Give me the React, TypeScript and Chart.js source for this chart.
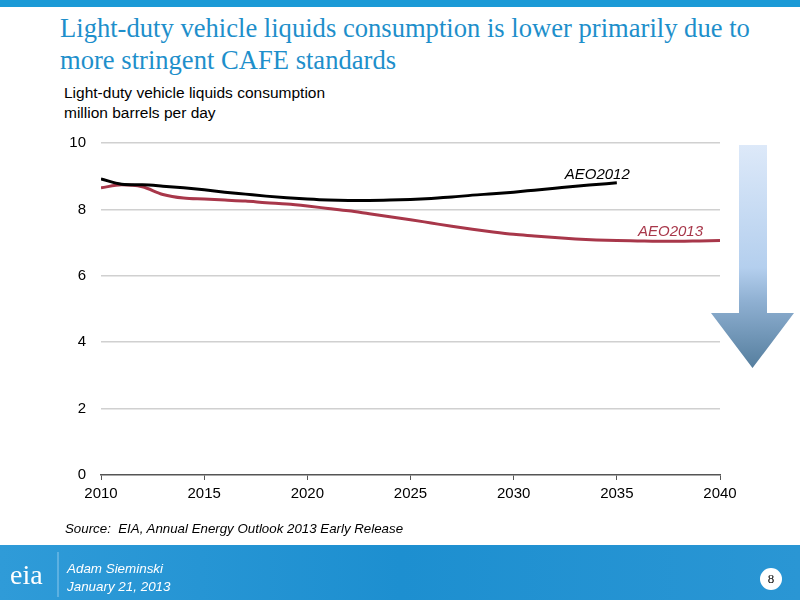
import React, { useEffect, useRef } from "react";
import { Chart, registerables } from "chart.js";

Chart.register(...registerables);

const years: number[] = [
  2010, 2011, 2012, 2013, 2014, 2015, 2016, 2017, 2018, 2019, 2020,
  2021, 2022, 2023, 2024, 2025, 2026, 2027, 2028, 2029, 2030,
  2031, 2032, 2033, 2034, 2035, 2036, 2037, 2038, 2039, 2040,
];

const aeo2012: number[] = [
  8.92, 8.76, 8.74, 8.7, 8.65, 8.59, 8.52, 8.46, 8.4, 8.35, 8.31,
  8.28, 8.27, 8.27, 8.28, 8.3, 8.33, 8.37, 8.43, 8.47, 8.52,
  8.58, 8.64, 8.7, 8.75, 8.8,
];

const aeo2013: number[] = [
  8.65, 8.74, 8.68, 8.45, 8.34, 8.31, 8.28, 8.25, 8.2, 8.16, 8.1,
  8.03, 7.96, 7.87, 7.78, 7.69, 7.59, 7.49, 7.4, 7.32, 7.25,
  7.2, 7.15, 7.11, 7.08, 7.06, 7.05, 7.04, 7.04, 7.05, 7.06,
];

const xTicks: number[] = [2010, 2015, 2020, 2025, 2030, 2035, 2040];
const yTicks: number[] = [0, 2, 4, 6, 8, 10];

const seriesLabels = [
  { text: "AEO2012", x: 2034.05, y: 9.04, color: "#000000" },
  { text: "AEO2013", x: 2037.6, y: 7.33, color: "#a8374a" },
];

const SANS = "'Liberation Sans', Arial, sans-serif";

const labelPlugin = {
  id: "seriesLabels",
  afterDatasetsDraw(chart: any) {
    const { ctx, scales } = chart;
    ctx.save();
    ctx.font = "italic 15px " + SANS;
    ctx.textAlign = "center";
    ctx.textBaseline = "middle";
    for (const l of seriesLabels) {
      ctx.fillStyle = l.color;
      ctx.fillText(l.text, scales.x.getPixelForValue(l.x), scales.y.getPixelForValue(l.y));
    }
    ctx.restore();
  },
};

function ChartCanvas() {
  const ref = useRef<HTMLCanvasElement>(null);
  useEffect(() => {
    if (!ref.current) return;
    const chart = new Chart(ref.current, {
      type: "line",
      data: {
        datasets: [
          {
            label: "AEO2012",
            data: aeo2012.map((v, i) => ({ x: years[i], y: v })),
            borderColor: "#000000",
            borderWidth: 3,
            pointRadius: 0,
            cubicInterpolationMode: "monotone",
          },
          {
            label: "AEO2013",
            data: aeo2013.map((v, i) => ({ x: years[i], y: v })),
            borderColor: "#a8374a",
            borderWidth: 3,
            pointRadius: 0,
            cubicInterpolationMode: "monotone",
          },
        ],
      },
      options: {
        animation: false,
        responsive: false,
        devicePixelRatio: 1,
        layout: { padding: { left: 0, right: 80, top: 143, bottom: 95 } },
        plugins: { legend: { display: false }, tooltip: { enabled: false } },
        scales: {
          x: {
            type: "linear",
            min: 2010,
            max: 2040,
            afterBuildTicks: (s: any) => {
              s.ticks = xTicks.map((v) => ({ value: v }));
            },
            afterFit: (s: any) => {
              s.height = 30;
            },
            grid: {
              display: true,
              drawOnChartArea: false,
              drawTicks: true,
              tickLength: 5,
              color: "#555555",
              lineWidth: 1,
            },
            border: { display: true, color: "#555555", width: 1.5 },
            ticks: {
              color: "#000000",
              font: { family: SANS, size: 15 },
              padding: 5,
              maxRotation: 0,
              callback: (v: any) => String(v),
            },
          },
          y: {
            min: 0,
            max: 10,
            afterBuildTicks: (s: any) => {
              s.ticks = yTicks.map((v) => ({ value: v }));
            },
            afterFit: (s: any) => {
              s.width = 101;
            },
            grid: {
              color: (c: any) => (c.tick && c.tick.value === 0 ? "rgba(0,0,0,0)" : "#d0d0d0"),
              lineWidth: 1.5,
              drawTicks: false,
            },
            border: { display: false },
            ticks: {
              color: "#000000",
              font: { family: SANS, size: 15 },
              padding: 15,
            },
          },
        },
      },
      plugins: [labelPlugin],
    } as any);
    return () => chart.destroy();
  }, []);
  return (
    <canvas
      ref={ref}
      width={800}
      height={600}
      style={{ position: "absolute", left: 0, top: 0, width: 800, height: 600 }}
    />
  );
}

export default function App() {
  useEffect(() => {
    document.body.style.margin = "0";
  }, []);
  return (
    <div
      style={{
        position: "absolute",
        left: 0,
        top: 0,
        width: 800,
        height: 600,
        overflow: "hidden",
        background: "#ffffff",
        fontFamily: SANS,
      }}
    >
      <div style={{ position: "absolute", left: 0, top: 0, width: 800, height: 7, background: "#1b9ad6" }} />
      <div
        style={{
          position: "absolute",
          left: 60,
          top: 12,
          width: 735,
          fontFamily: "'Liberation Serif', 'Times New Roman', serif",
          fontSize: 26.6,
          lineHeight: "32px",
          color: "#1e8fcb",
        }}
      >
        Light-duty vehicle liquids consumption is lower primarily due to more stringent CAFE standards
      </div>
      <div style={{ position: "absolute", left: 64, top: 83, fontSize: 15.5, lineHeight: "20px", color: "#000" }}>
        Light-duty vehicle liquids consumption
        <br />
        million barrels per day
      </div>
      <svg
        width={800}
        height={600}
        style={{ position: "absolute", left: 0, top: 0 }}
      >
        <defs>
          <linearGradient id="arrowGrad" x1="0" y1="0" x2="0" y2="1">
            <stop offset="0" stopColor="#dde9f9" />
            <stop offset="0.55" stopColor="#b4cfee" />
            <stop offset="0.7" stopColor="#8fb0d2" />
            <stop offset="1" stopColor="#557e9e" />
          </linearGradient>
          <linearGradient id="footGrad" x1="0" y1="0" x2="1" y2="0">
            <stop offset="0" stopColor="#2f9bd8" />
            <stop offset="0.5" stopColor="#1d8fd0" />
            <stop offset="1" stopColor="#2a96d4" />
          </linearGradient>
        </defs>
        <polygon
          points="739,145 767,145 767,313 794,313 752.5,368 711,313 739,313"
          fill="url(#arrowGrad)"
        />
        <rect x={0} y={545} width={800} height={55} fill="url(#footGrad)" />
        <line x1={58} y1={552} x2={58} y2={597} stroke="#8cc8ec" strokeWidth={1} />
        <circle cx={771} cy={579} r={11} fill="#ffffff" />
      </svg>
      <ChartCanvas />
      <div
        style={{
          position: "absolute",
          left: 65,
          top: 521,
          fontSize: 13.3,
          fontStyle: "italic",
          color: "#000",
        }}
      >
        Source:&nbsp; EIA, Annual Energy Outlook 2013 Early Release
      </div>
      <div
        style={{
          position: "absolute",
          left: 10,
          top: 560,
          fontFamily: "'Liberation Serif', 'Times New Roman', serif",
          fontSize: 28,
          lineHeight: "30px",
          color: "#ffffff",
        }}
      >
        eia
      </div>
      <div
        style={{
          position: "absolute",
          left: 67,
          top: 560,
          fontSize: 13.4,
          lineHeight: "18px",
          fontStyle: "italic",
          color: "#ffffff",
        }}
      >
        Adam Sieminski
        <br />
        January 21, 2013
      </div>
      <div
        style={{
          position: "absolute",
          left: 760,
          top: 570,
          width: 22,
          textAlign: "center",
          fontFamily: "'Liberation Serif', 'Times New Roman', serif",
          fontSize: 13,
          lineHeight: "18px",
          color: "#000",
        }}
      >
        8
      </div>
    </div>
  );
}
